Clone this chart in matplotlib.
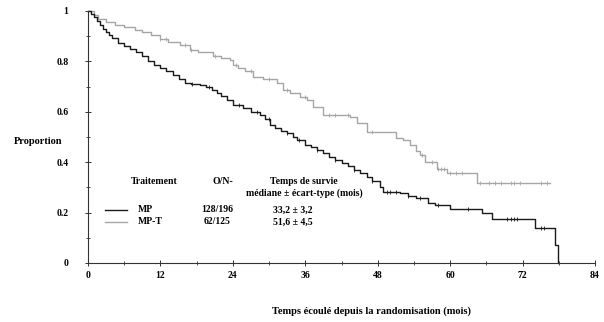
import numpy as np
import matplotlib.pyplot as plt

plt.rcParams['font.family'] = ['Liberation Serif', 'DejaVu Serif']
plt.rcParams['font.weight'] = 'bold'

# MP arm (black) - step curve
t_mp = [0, 0.5, 1, 1.5, 2, 2.5, 3, 3.5, 4, 5, 6, 7, 8, 9, 10, 11, 12, 13, 14, 15,
        16, 17, 18.5, 19.5, 20.5, 21.3, 22, 23, 24, 25.7, 27, 28.5, 29.3, 30.2, 31,
        32, 32.9, 34, 34.6, 36, 37, 38, 39, 40, 41, 42, 43, 44, 45, 46.2, 47, 48.4,
        48.9, 51.7, 53, 54.4, 56.3, 57.5, 60, 65.2, 66.9, 74.1, 77.4, 77.9]
s_mp = [1.0, 0.99, 0.975, 0.96, 0.945, 0.93, 0.915, 0.905, 0.893, 0.873, 0.86, 0.85,
        0.838, 0.82, 0.80, 0.785, 0.773, 0.762, 0.745, 0.73, 0.714, 0.712, 0.706,
        0.70, 0.687, 0.673, 0.662, 0.645, 0.627, 0.614, 0.60, 0.587, 0.57, 0.548,
        0.535, 0.525, 0.515, 0.50, 0.488, 0.47, 0.46, 0.45, 0.437, 0.42, 0.41, 0.398,
        0.385, 0.37, 0.356, 0.342, 0.325, 0.30, 0.283, 0.278, 0.265, 0.257, 0.238,
        0.23, 0.213, 0.197, 0.175, 0.14, 0.071, 0.0]
cens_mp = [17.2, 20, 25, 28, 30, 33, 35, 38, 41, 44, 47, 49.5, 50, 51, 53, 55,
           58, 63, 69.5, 70, 70.5, 71, 75, 75.5]

# MP-T arm (grey)
t_mpt = [0, 1, 1.7, 3, 4.5, 6, 7.8, 9, 10.5, 12, 13.3, 15.2, 16.9, 18.3, 20.7, 22,
         23.5, 24, 24.8, 26, 27.4, 29, 31.3, 32.3, 33.5, 35.1, 36.3, 37.3, 39, 43.4,
         44.5, 46.2, 51.1, 52.2, 53.3, 54.4, 55, 55.8, 57.8, 59.4, 64.4, 76.5]
s_mpt = [1.0, 0.985, 0.97, 0.958, 0.944, 0.935, 0.925, 0.915, 0.905, 0.89, 0.878,
         0.865, 0.845, 0.838, 0.82, 0.815, 0.806, 0.785, 0.774, 0.76, 0.739, 0.73,
         0.714, 0.687, 0.675, 0.66, 0.645, 0.62, 0.587, 0.58, 0.555, 0.52, 0.495,
         0.488, 0.468, 0.445, 0.428, 0.40, 0.375, 0.356, 0.319, 0.319]
cens_mpt = [12, 13, 16, 17, 21, 24.5, 27, 30, 33, 36, 40, 41, 43, 47, 55.3, 57,
            58, 58.5, 59, 60, 61, 62, 65, 66.5, 67.5, 68.5, 70, 70.5, 71.5, 75, 76]

xticks = [0, 12, 24, 36, 48, 60, 72, 84]
yticks = [0, 0.2, 0.4, 0.6, 0.8, 1]
ylabels = ['0', '0.2', '0.4', '0.6', '0.8', '1']

black = '#1a1a1a'
grey = '#a6a6a6'

fig = plt.figure(figsize=(6.04, 3.22), dpi=100)
ax = fig.add_axes([88 / 604, 1 - 263 / 322, 507 / 604, 252 / 322])


def at(times, surv, c):
    i = np.searchsorted(times, c, side='right') - 1
    return np.array(surv)[i]


ax.step(t_mpt, s_mpt, where='post', color=grey, lw=1, clip_on=False)
ax.plot(cens_mpt, at(t_mpt, s_mpt, cens_mpt), '|', color=grey, ms=2.5, mew=0.6)
ax.step(t_mp, s_mp, where='post', color=black, lw=1, clip_on=False)
ax.plot(cens_mp, at(t_mp, s_mp, cens_mp), '|', color=black, ms=2.5, mew=0.6)

ax.set_xlim(0, 84)
ax.set_ylim(0, 1)
ax.set_xticks(xticks)
ax.set_xticks(np.arange(6, 84, 12), minor=True)
ax.set_yticks(yticks)
ax.set_yticklabels(ylabels)
ax.set_yticks(np.arange(0.1, 1, 0.2), minor=True)
for s in ['top', 'right']:
    ax.spines[s].set_visible(False)
for s in ['left', 'bottom']:
    ax.spines[s].set_color('#333333')
    ax.spines[s].set_linewidth(0.8)
ax.tick_params(which='major', direction='inout', length=4, width=0.7,
               labelsize=7, color='#333333')
ax.tick_params(which='minor', direction='inout', length=2.5, width=0.6,
               color='#333333')
ax.tick_params(axis='x', pad=4)
ax.tick_params(axis='y', pad=12)

fig.text(14 / 604, 1 - 141 / 322, 'Proportion', fontsize=7.5, fontweight='bold',
         va='center', ha='left')
fig.text(372 / 604, 1 - 311 / 322, 'Temps écoulé depuis la randomisation (mois)',
         fontsize=7.5, fontweight='bold', ha='center', va='center')

# legend table
def ftxt(x, y, s, ha='center'):
    fig.text(x / 604, 1 - y / 322, s, fontsize=7, fontweight='bold', ha=ha, va='center')


ftxt(154, 182, 'Traitement')
ftxt(223, 182, 'O/N-')
ftxt(304, 182, 'Temps de survie')
ftxt(304, 193, 'médiane ± écart-type (mois)')
ftxt(138, 210, 'MP', ha='left')
ftxt(217, 210, '128/196')
ftxt(293, 210, '33,2 ± 3,2')
ftxt(138, 222, 'MP-T', ha='left')
ftxt(217, 222, '62/125')
ftxt(293, 222, '51,6 ± 4,5')
fig.add_artist(plt.Line2D([105 / 604, 127 / 604], [1 - 210 / 322] * 2, color=black, lw=1))
fig.add_artist(plt.Line2D([105 / 604, 127 / 604], [1 - 222 / 322] * 2, color=grey, lw=1))

fig.savefig('out.png', dpi=100)
